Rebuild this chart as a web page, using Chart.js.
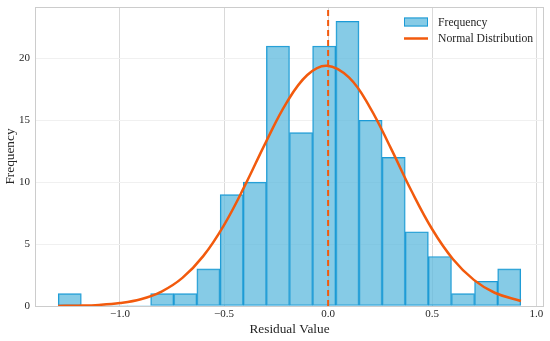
<!DOCTYPE html>
<html>
<head>
<meta charset="utf-8">
<script src="https://cdn.jsdelivr.net/npm/chart.js@4.4.1/dist/chart.umd.min.js"></script>
<style>
html,body{margin:0;padding:0;background:#fff;}
#wrap{width:550px;height:341px;}
</style>
</head>
<body>
<div id="wrap"><canvas id="c" width="550" height="341"></canvas></div>
<script>
// ---- data ----
const binCenters = [-1.241, -1.130, -1.019, -0.908, -0.797, -0.686, -0.575, -0.463, -0.352, -0.241,
                    -0.130, -0.019, 0.093, 0.204, 0.315, 0.426, 0.537, 0.648, 0.759, 0.870];
const binCounts  = [1, 0, 0, 0, 1, 1, 3, 9, 10, 21, 14, 21, 23, 15, 12, 6, 4, 1, 2, 3];

const curveX = [-1.297, -1.2, -1.1, -1.0, -0.9, -0.8, -0.7, -0.6, -0.5, -0.4, -0.3, -0.2, -0.1, -0.006,
                0.1, 0.2, 0.3, 0.4, 0.5, 0.6, 0.7, 0.8, 0.926];
const curveY = [0.01, 0.03, 0.09, 0.24, 0.55, 1.17, 2.27, 4.03, 6.54, 9.72, 13.20, 16.41, 18.66, 19.41,
                18.46, 16.07, 12.79, 9.31, 6.20, 3.78, 2.11, 1.07, 0.40];

const refLineX = 0.0;
const xTicks = [-1.0, -0.5, 0.0, 0.5, 1.0];
const yTicks = [0, 5, 10, 15, 20];
const xRange = [-1.408, 1.037];
const yRange = [0, 24.15];

const labels = ['Frequency', 'Normal Distribution'];

// ---- styles ----
const barFill = 'rgba(94,186,222,0.75)';
const barEdge = '#1b9ad6';
const lineColor = '#F25A0D';
const serif = '"Liberation Serif", "Times New Roman", serif';
const textColor = '#262626';

const frameAndLegend = {
  id: 'frameAndLegend',
  afterDraw(chart) {
    const {ctx, chartArea: a} = chart;
    ctx.save();
    ctx.strokeStyle = '#cccccc';
    ctx.lineWidth = 1;
    ctx.strokeRect(Math.round(a.left) + 0.5, Math.round(a.top) + 0.5,
                   Math.round(a.right - a.left) - 1, Math.round(a.bottom - a.top));
    // legend
    const lx = a.right - 140, ly = a.top + 10.5;
    ctx.fillStyle = barFill;
    ctx.strokeStyle = barEdge;
    ctx.lineWidth = 1;
    ctx.fillRect(lx, ly, 24, 9);
    ctx.strokeRect(lx + 0.5, ly + 0.5, 23, 8);
    ctx.strokeStyle = lineColor;
    ctx.lineWidth = 2.5;
    ctx.beginPath();
    ctx.moveTo(lx, ly + 21);
    ctx.lineTo(lx + 24, ly + 21);
    ctx.stroke();
    ctx.fillStyle = textColor;
    ctx.font = '11.7px ' + serif;
    ctx.textBaseline = 'middle';
    ctx.textAlign = 'left';
    ctx.fillText(labels[0], lx + 34, ly + 5);
    ctx.fillText(labels[1], lx + 34, ly + 21.5);
    ctx.restore();
  }
};

const fmt = v => {
  const s = Math.abs(v).toFixed(1);
  return v < 0 ? '\u2212' + s : s;
};

const chart = new Chart(document.getElementById('c'), {
  type: 'bar',
  data: {
    datasets: [
      {
        type: 'line',
        label: labels[1],
        data: curveX.map((x, i) => ({x, y: curveY[i]})),
        borderColor: lineColor,
        borderWidth: 2.5,
        pointRadius: 0,
        tension: 0.4,
        fill: false,
        order: 1
      },
      {
        type: 'line',
        label: 'ref',
        data: [{x: refLineX, y: yRange[0]}, {x: refLineX, y: yRange[1]}],
        borderColor: lineColor,
        borderWidth: 2,
        borderDash: [6, 4],
        pointRadius: 0,
        fill: false,
        order: 0
      },
      {
        type: 'bar',
        label: labels[0],
        data: binCenters.map((x, i) => ({x, y: binCounts[i]})),
        backgroundColor: barFill,
        borderColor: barEdge,
        borderWidth: ctx => (ctx.raw && ctx.raw.y > 0 ? 1 : 0),
        borderSkipped: false,
        barPercentage: 1.0,
        categoryPercentage: 1.0,
        grouped: false,
        order: 2
      }
    ]
  },
  options: {
    responsive: false,
    animation: false,
    events: [],
    layout: {padding: {top: 7, right: 6, left: 0, bottom: 0}},
    plugins: {legend: {display: false}, tooltip: {enabled: false}},
    scales: {
      x: {
        type: 'linear',
        offset: false,
        min: xRange[0],
        max: xRange[1],
        afterBuildTicks: s => { s.ticks = xTicks.map(v => ({value: v})); },
        afterFit: s => { s.height = 35; s.paddingLeft = 0; s.paddingRight = 0; },
        grid: {color: '#d9d9d9', lineWidth: 1, drawTicks: false, offset: false},
        border: {display: false},
        ticks: {
          callback: v => fmt(v),
          color: textColor,
          font: {family: serif, size: 11},
          padding: 2,
          maxRotation: 0
        },
        title: {
          display: true,
          text: 'Residual Value',
          color: textColor,
          font: {family: serif, size: 13.3},
          padding: {top: 0, bottom: 4}
        }
      },
      y: {
        type: 'linear',
        min: yRange[0],
        max: yRange[1],
        afterBuildTicks: s => { s.ticks = yTicks.map(v => ({value: v})); },
        afterFit: s => { s.width = 35; s.paddingTop = 0; s.paddingBottom = 0; },
        grid: {color: '#f0f0f0', lineWidth: 1, drawTicks: false},
        border: {display: false},
        ticks: {
          callback: v => String(v),
          color: textColor,
          font: {family: serif, size: 11},
          padding: 5
        },
        title: {
          display: true,
          text: 'Frequency',
          color: textColor,
          font: {family: serif, size: 13.3},
          padding: {top: 3, bottom: 0}
        }
      }
    }
  },
  plugins: [frameAndLegend]
});
</script>
</body>
</html>
